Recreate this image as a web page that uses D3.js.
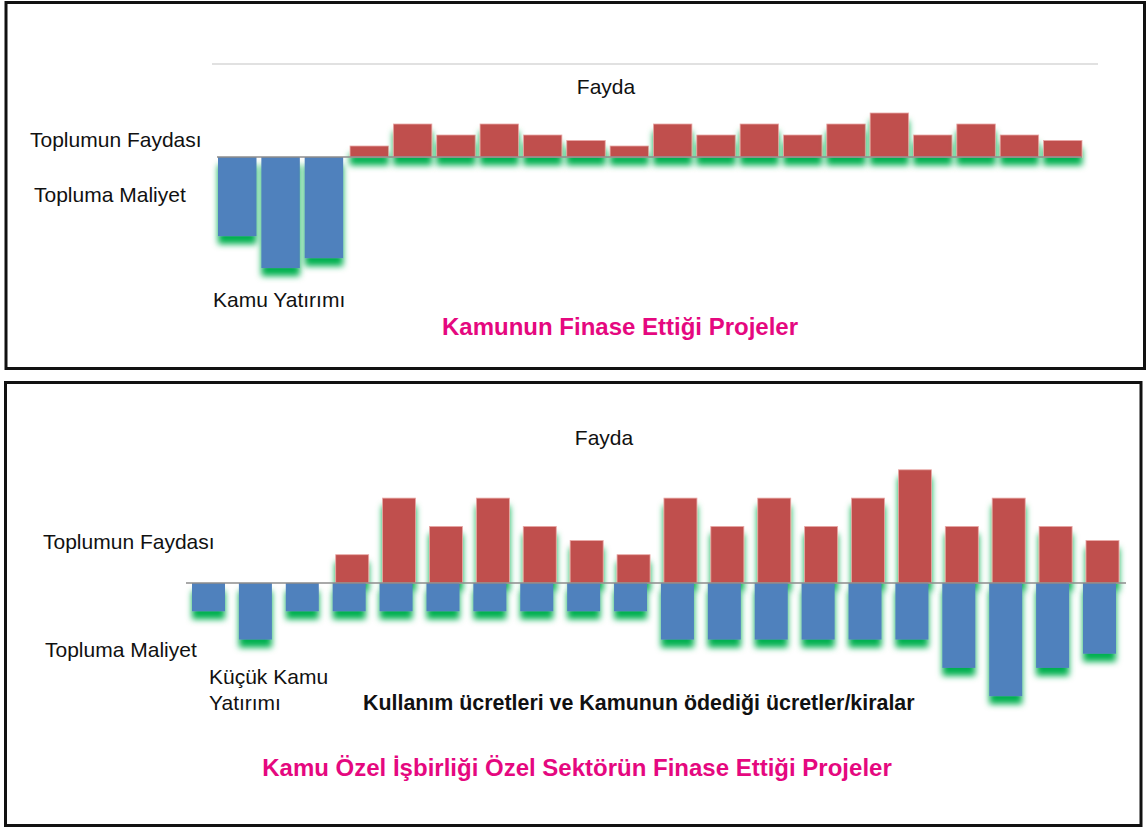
<!DOCTYPE html>
<html lang="tr">
	<head>
		<meta charset="utf-8">
		<title>Kamu ve KÖİ Projeleri</title>
		<script type="text/javascript" src="https://cdn.jsdelivr.net/npm/d3@7"></script>
		<style>
			body {
				margin: 0;
				background: #fff;
			}
			text {
				font-family: "Liberation Sans", Arial, sans-serif;
				fill: #111;
			}
			.title {
				font-weight: bold;
				fill: #e5087f;
			}
		</style>
	</head>
	<body>
		<div id="vis"></div>

		<script type="text/javascript">
			// projeler (her iki panelde 20 proje)
			var projects = [1, 2, 3, 4, 5, 6, 7, 8, 9, 10, 11, 12, 13, 14, 15, 16, 17, 18, 19, 20];

			// toplumun faydası, 4. projeden itibaren (her iki panelde aynı)
			var benefitProjects = [4, 5, 6, 7, 8, 9, 10, 11, 12, 13, 14, 15, 16, 17, 18, 19, 20];
			var benefits = [1, 3, 2, 3, 2, 1.5, 1, 3, 2, 3, 2, 3, 4, 2, 3, 2, 1.5];

			// topluma maliyet - kamunun finanse ettiği projeler
			var publicCostProjects = [1, 2, 3];
			var publicCosts = [7.2, 10.1, 9.2];

			// topluma maliyet - KÖİ projeleri
			var pppCostProjects = projects;
			var pppCosts = [1, 2, 1, 1, 1, 1, 1, 1, 1, 1, 2, 2, 2, 2, 2, 2, 3, 4, 3, 2.5];

			var red = "#c0504d", blue = "#4f81bd", glow = "#00b050";

			var svg = d3.select("#vis").append("svg")
				.attr("width", 1147).attr("height", 827);

			// yeşil gölge
			var f = svg.append("defs").append("filter").attr("id", "glow")
				.attr("x", "-50%").attr("y", "-100%").attr("width", "200%").attr("height", "400%");
			f.append("feFlood").attr("flood-color", glow).attr("result", "c");
			f.append("feComposite").attr("in", "c").attr("in2", "SourceAlpha").attr("operator", "in").attr("result", "s");
			f.append("feOffset").attr("in", "s").attr("dx", 0).attr("dy", 8).attr("result", "o");
			f.append("feGaussianBlur").attr("in", "o").attr("stdDeviation", 3).attr("result", "b");
			var m = f.append("feMerge");
			m.append("feMergeNode").attr("in", "b");
			m.append("feMergeNode").attr("in", "SourceGraphic");

			var drawPanel = function(cfg) {
				var g = svg.append("g");

				g.append("rect")
					.attr("x", cfg.box[0]).attr("y", cfg.box[1])
					.attr("width", cfg.box[2]).attr("height", cfg.box[3])
					.attr("fill", "none").attr("stroke", "#111").attr("stroke-width", 3);

				var x = d3.scaleBand().domain(projects).range(cfg.xRange)
					.paddingInner(cfg.pad).paddingOuter(0);
				var y = d3.scaleLinear().domain([0, 1]).range([cfg.zero, cfg.zero - cfg.unit]);

				g.selectAll("rect.benefit").data(benefits).enter().append("rect")
					.attr("class", "benefit")
					.attr("x", function(d, i) { return x(benefitProjects[i]) + cfg.shift; })
					.attr("width", x.bandwidth())
					.attr("y", function(d) { return y(d); })
					.attr("height", function(d) { return y(0) - y(d); })
					.attr("fill", red)
					.attr("stroke", "#e9a9a7").attr("stroke-width", 0.8)
					.attr("filter", "url(#glow)");

				g.selectAll("rect.cost").data(cfg.costs).enter().append("rect")
					.attr("class", "cost")
					.attr("x", function(d, i) { return x(cfg.costProjects[i]); })
					.attr("width", x.bandwidth())
					.attr("y", y(0))
					.attr("height", function(d) { return y(-d) - y(0); })
					.attr("fill", blue)
					.attr("filter", "url(#glow)");

				g.append("line")
					.attr("x1", cfg.line[0]).attr("x2", cfg.line[1])
					.attr("y1", y(0)).attr("y2", y(0))
					.attr("stroke", "#8c8c8c").attr("stroke-width", 1.5);

				cfg.labels.forEach(function(l) {
					g.append("text")
						.attr("class", l.cls || null)
						.attr("x", l.x).attr("y", l.y)
						.attr("text-anchor", l.anchor || "start")
						.style("font-size", l.size + "px")
						.style("font-weight", l.bold ? "bold" : null)
						.text(l.t);
				});
				return g;
			};

			var topPanel = drawPanel({
				box: [6, 2.5, 1138.5, 366],
				xRange: [218, 1080],
				pad: 0.112,
				shift: 2,
				zero: 157,
				unit: 11,
				costs: publicCosts,
				costProjects: publicCostProjects,
				line: [217, 1082],
				labels: [
					{t: "Fayda", x: 606, y: 94, size: 21, anchor: "middle"},
					{t: "Toplumun Faydası", x: 30, y: 147, size: 21},
					{t: "Topluma Maliyet", x: 34, y: 202, size: 21},
					{t: "Kamu Yatırımı", x: 213, y: 307, size: 21},
					{t: "Kamunun Finase Ettiği Projeler", x: 620, y: 335, size: 24, anchor: "middle", cls: "title"}
				]
			});
			topPanel.append("line")
				.attr("x1", 212).attr("x2", 1098).attr("y1", 64).attr("y2", 64)
				.attr("stroke", "#c4c4c4").attr("stroke-width", 1.2);

			drawPanel({
				box: [5.5, 382.5, 1135.5, 443],
				xRange: [192, 1116],
				pad: 0.296,
				shift: 3,
				zero: 583,
				unit: 28.3,
				costs: pppCosts,
				costProjects: pppCostProjects,
				line: [186, 1126],
				labels: [
					{t: "Fayda", x: 604, y: 445, size: 21, anchor: "middle"},
					{t: "Toplumun Faydası", x: 43, y: 549, size: 21},
					{t: "Topluma Maliyet", x: 45, y: 657, size: 21},
					{t: "Küçük Kamu", x: 209, y: 684, size: 21},
					{t: "Yatırımı", x: 209, y: 710, size: 21},
					{t: "Kullanım ücretleri ve Kamunun ödediği ücretler/kiralar", x: 363, y: 710, size: 21.4, bold: true},
					{t: "Kamu Özel İşbirliği Özel Sektörün Finase Ettiği Projeler", x: 577, y: 776, size: 24, anchor: "middle", cls: "title"}
				]
			});
		</script>
	</body>
</html>
